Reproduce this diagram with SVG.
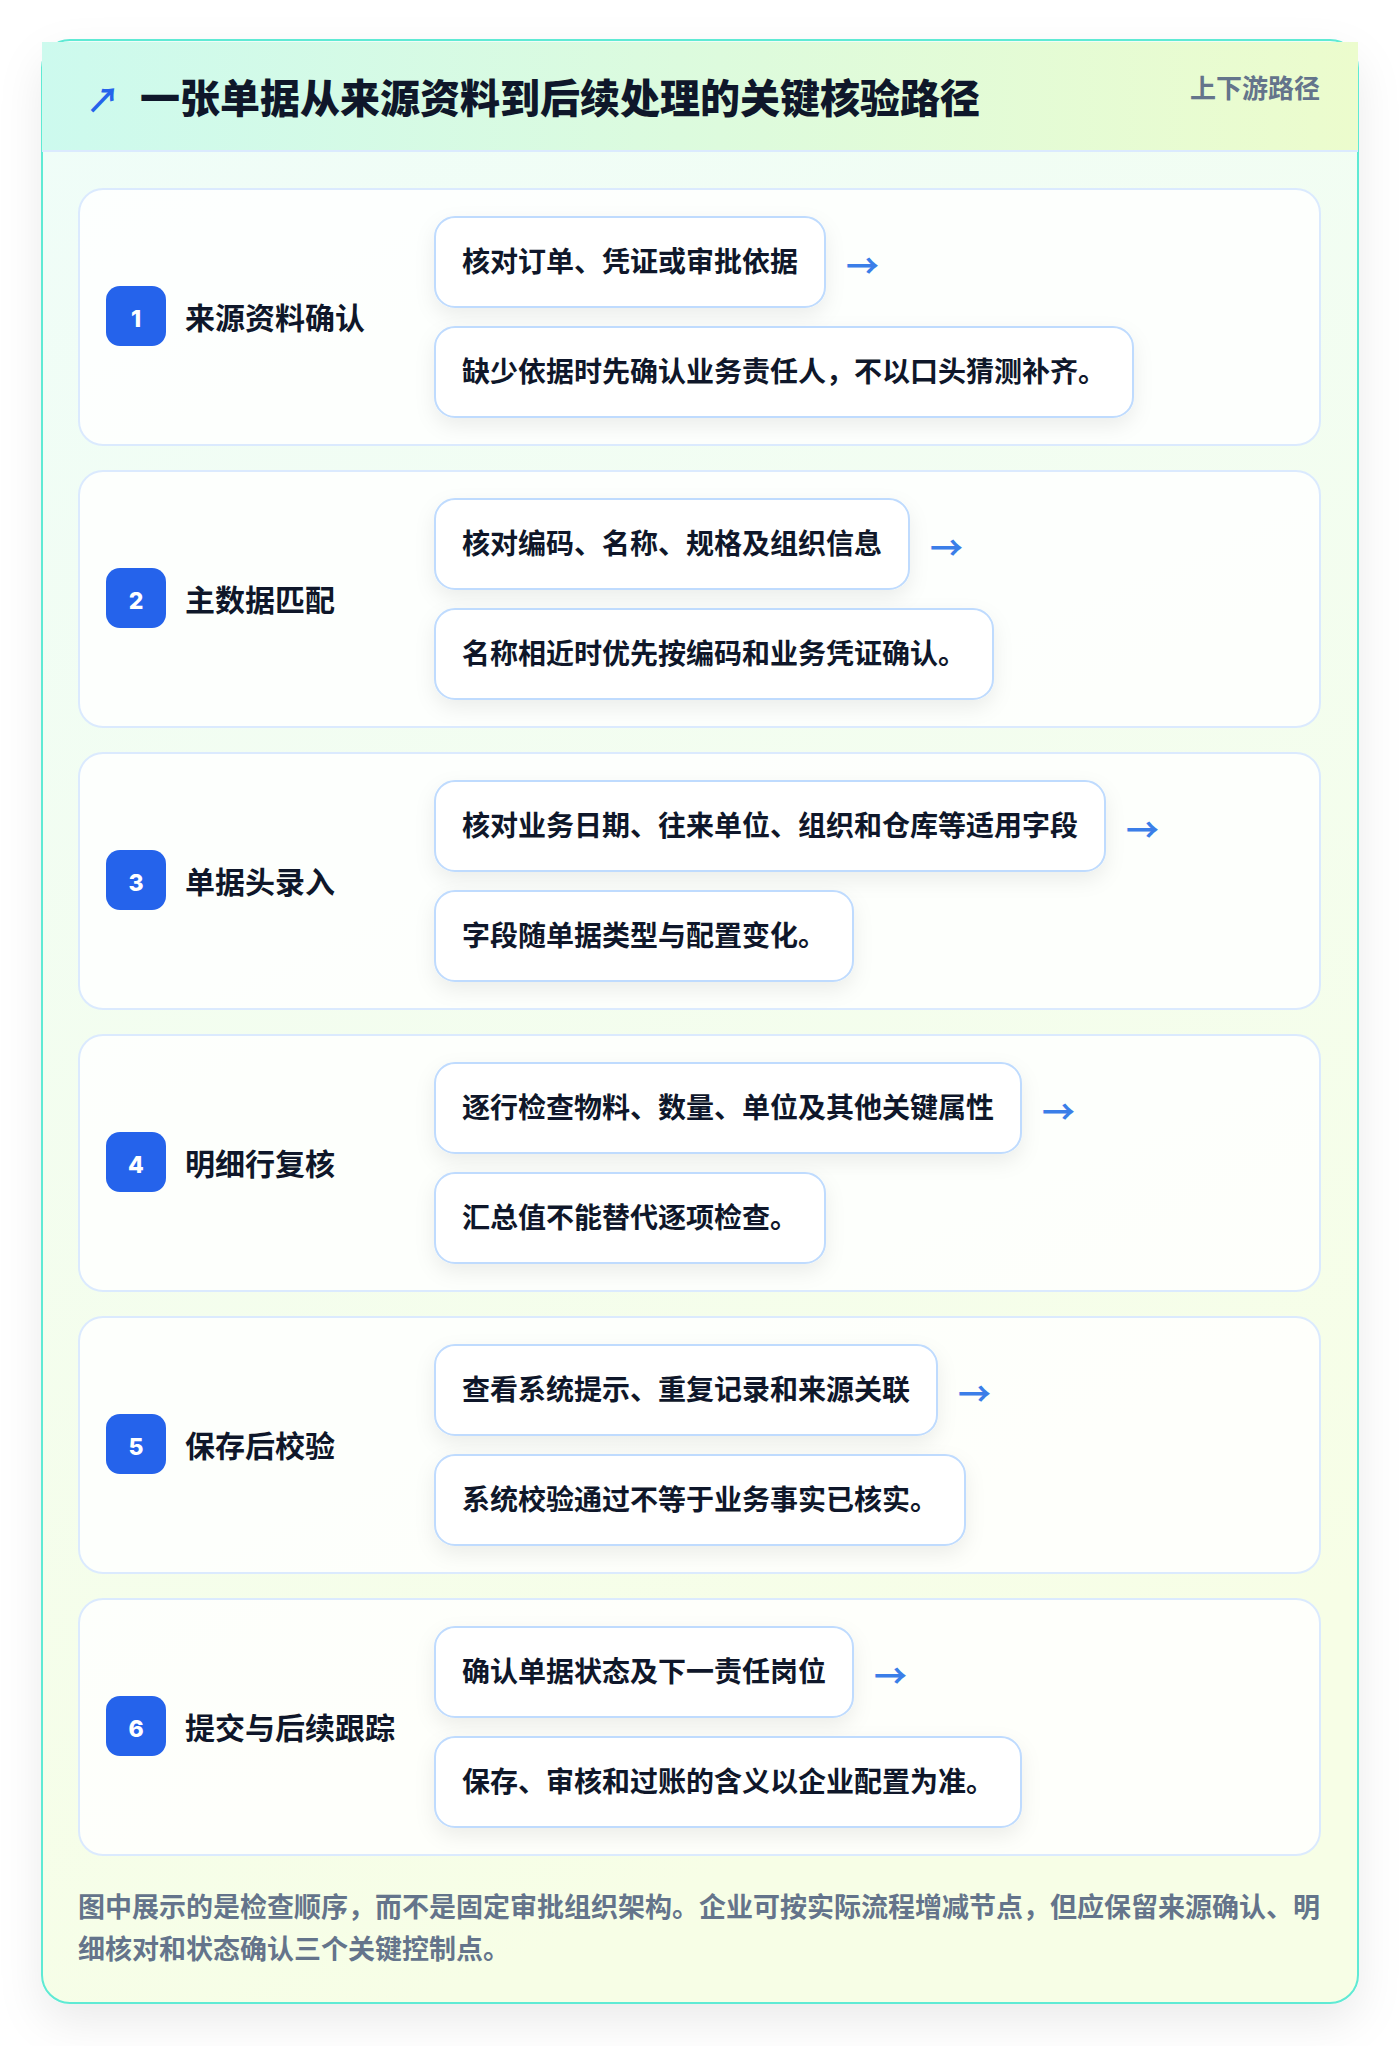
<svg xmlns="http://www.w3.org/2000/svg" width="1400" height="2046" viewBox="0 0 1400 2046">
<defs>
<linearGradient id="hdr" x1="0" y1="0" x2="1" y2="0">
<stop offset="0" stop-color="#cdfaee"/>
<stop offset="1" stop-color="#ecfccd"/>
</linearGradient>
<linearGradient id="body" x1="0" y1="0" x2="0.3" y2="1">
<stop offset="0" stop-color="#effdf9"/>
<stop offset="1" stop-color="#f7fee6"/>
</linearGradient>
<filter id="outerShadow" x="-10%" y="-10%" width="120%" height="120%">
<feDropShadow dx="0" dy="18" stdDeviation="22" flood-color="#0f172a" flood-opacity="0.08"/>
</filter>
<filter id="boxShadow" x="-20%" y="-40%" width="140%" height="200%">
<feDropShadow dx="0" dy="8" stdDeviation="10" flood-color="#0f172a" flood-opacity="0.07"/>
</filter>
<style>
.card{fill:#ffffff;fill-opacity:0.82;stroke:#dbeafe;stroke-width:2}
.box{fill:#ffffff;stroke:#bfdbfe;stroke-width:2}
.badge{fill:#2563eb}
.num{font-family:Inter,"Liberation Sans",sans-serif;font-weight:800;font-size:23px;fill:#ffffff}
.stitle{font-family:"Noto Sans CJK SC",sans-serif;font-weight:700;font-size:30px;fill:#0f172a}
.btext{font-family:"Noto Sans CJK SC",sans-serif;font-weight:700;font-size:28px;fill:#0f172a}
.arr{font-family:"Noto Sans CJK SC",sans-serif;font-weight:700;font-size:33px;fill:#3b7ee8}
.foot{font-family:"Noto Sans CJK SC",sans-serif;font-weight:700;font-size:27px;fill:#64748b}
</style>
</defs>
<rect x="0" y="0" width="1400" height="2046" fill="#ffffff"/>
<g id="frame">
<rect x="42" y="40" width="1316" height="1963" rx="28" fill="url(#body)" stroke="#5eead4" stroke-width="2" filter="url(#outerShadow)"/>
<rect x="42" y="42" width="1316" height="109" fill="url(#hdr)"/>
<line x1="42" y1="151" x2="1358" y2="151" stroke="#dbeafe" stroke-width="2"/>
<text x="86" y="113" font-family="Noto Sans CJK SC,sans-serif" font-size="34" font-weight="700" fill="#2563eb">↗</text>
<text x="140" y="113" font-family="Noto Sans CJK SC,sans-serif" font-size="40" font-weight="900" fill="#0f172a">一张单据从来源资料到后续处理的关键核验路径</text>
<text x="1320" y="98" text-anchor="end" font-family="Noto Sans CJK SC,sans-serif" font-size="26" font-weight="700" fill="#64748b">上下游路径</text>
</g>
<g id="step1" transform="translate(0,189)">
<rect class="card" x="79" y="0" width="1241" height="256" rx="24"/>
<rect class="badge" x="106" y="97" width="60" height="60" rx="14"/>
<text class="num" x="136" y="138" text-anchor="middle">1</text>
<text class="stitle" x="185" y="140">来源资料确认</text>
<rect class="box" x="435" y="28" width="390" height="90" rx="20" filter="url(#boxShadow)"/>
<text class="btext" x="462" y="83">核对订单、凭证或审批依据</text>
<rect class="box" x="435" y="138" width="698" height="90" rx="20" filter="url(#boxShadow)"/>
<text class="btext" x="462" y="193">缺少依据时先确认业务责任人，不以口头猜测补齐。</text>
</g>
<g id="step2" transform="translate(0,471)">
<rect class="card" x="79" y="0" width="1241" height="256" rx="24"/>
<rect class="badge" x="106" y="97" width="60" height="60" rx="14"/>
<text class="num" x="136" y="138" text-anchor="middle">2</text>
<text class="stitle" x="185" y="140">主数据匹配</text>
<rect class="box" x="435" y="28" width="474" height="90" rx="20" filter="url(#boxShadow)"/>
<text class="btext" x="462" y="83">核对编码、名称、规格及组织信息</text>
<rect class="box" x="435" y="138" width="558" height="90" rx="20" filter="url(#boxShadow)"/>
<text class="btext" x="462" y="193">名称相近时优先按编码和业务凭证确认。</text>
</g>
<g id="step3" transform="translate(0,753)">
<rect class="card" x="79" y="0" width="1241" height="256" rx="24"/>
<rect class="badge" x="106" y="97" width="60" height="60" rx="14"/>
<text class="num" x="136" y="138" text-anchor="middle">3</text>
<text class="stitle" x="185" y="140">单据头录入</text>
<rect class="box" x="435" y="28" width="670" height="90" rx="20" filter="url(#boxShadow)"/>
<text class="btext" x="462" y="83">核对业务日期、往来单位、组织和仓库等适用字段</text>
<rect class="box" x="435" y="138" width="418" height="90" rx="20" filter="url(#boxShadow)"/>
<text class="btext" x="462" y="193">字段随单据类型与配置变化。</text>
</g>
<g id="step4" transform="translate(0,1035)">
<rect class="card" x="79" y="0" width="1241" height="256" rx="24"/>
<rect class="badge" x="106" y="97" width="60" height="60" rx="14"/>
<text class="num" x="136" y="138" text-anchor="middle">4</text>
<text class="stitle" x="185" y="140">明细行复核</text>
<rect class="box" x="435" y="28" width="586" height="90" rx="20" filter="url(#boxShadow)"/>
<text class="btext" x="462" y="83">逐行检查物料、数量、单位及其他关键属性</text>
<rect class="box" x="435" y="138" width="390" height="90" rx="20" filter="url(#boxShadow)"/>
<text class="btext" x="462" y="193">汇总值不能替代逐项检查。</text>
</g>
<g id="step5" transform="translate(0,1317)">
<rect class="card" x="79" y="0" width="1241" height="256" rx="24"/>
<rect class="badge" x="106" y="97" width="60" height="60" rx="14"/>
<text class="num" x="136" y="138" text-anchor="middle">5</text>
<text class="stitle" x="185" y="140">保存后校验</text>
<rect class="box" x="435" y="28" width="502" height="90" rx="20" filter="url(#boxShadow)"/>
<text class="btext" x="462" y="83">查看系统提示、重复记录和来源关联</text>
<rect class="box" x="435" y="138" width="530" height="90" rx="20" filter="url(#boxShadow)"/>
<text class="btext" x="462" y="193">系统校验通过不等于业务事实已核实。</text>
</g>
<g id="step6" transform="translate(0,1599)">
<rect class="card" x="79" y="0" width="1241" height="256" rx="24"/>
<rect class="badge" x="106" y="97" width="60" height="60" rx="14"/>
<text class="num" x="136" y="138" text-anchor="middle">6</text>
<text class="stitle" x="185" y="140">提交与后续跟踪</text>
<rect class="box" x="435" y="28" width="418" height="90" rx="20" filter="url(#boxShadow)"/>
<text class="btext" x="462" y="83">确认单据状态及下一责任岗位</text>
<rect class="box" x="435" y="138" width="586" height="90" rx="20" filter="url(#boxShadow)"/>
<text class="btext" x="462" y="193">保存、审核和过账的含义以企业配置为准。</text>
</g>
<g id="connectors">
<text class="arr" x="846" y="278">→</text>
<text class="arr" x="930" y="560">→</text>
<text class="arr" x="1126" y="842">→</text>
<text class="arr" x="1042" y="1124">→</text>
<text class="arr" x="958" y="1406">→</text>
<text class="arr" x="874" y="1688">→</text>
</g>
<g id="footer">
<text class="foot" x="78" y="1917">图中展示的是检查顺序，而不是固定审批组织架构。企业可按实际流程增减节点，但应保留来源确认、明</text>
<text class="foot" x="78" y="1959">细核对和状态确认三个关键控制点。</text>
</g>
</svg>
